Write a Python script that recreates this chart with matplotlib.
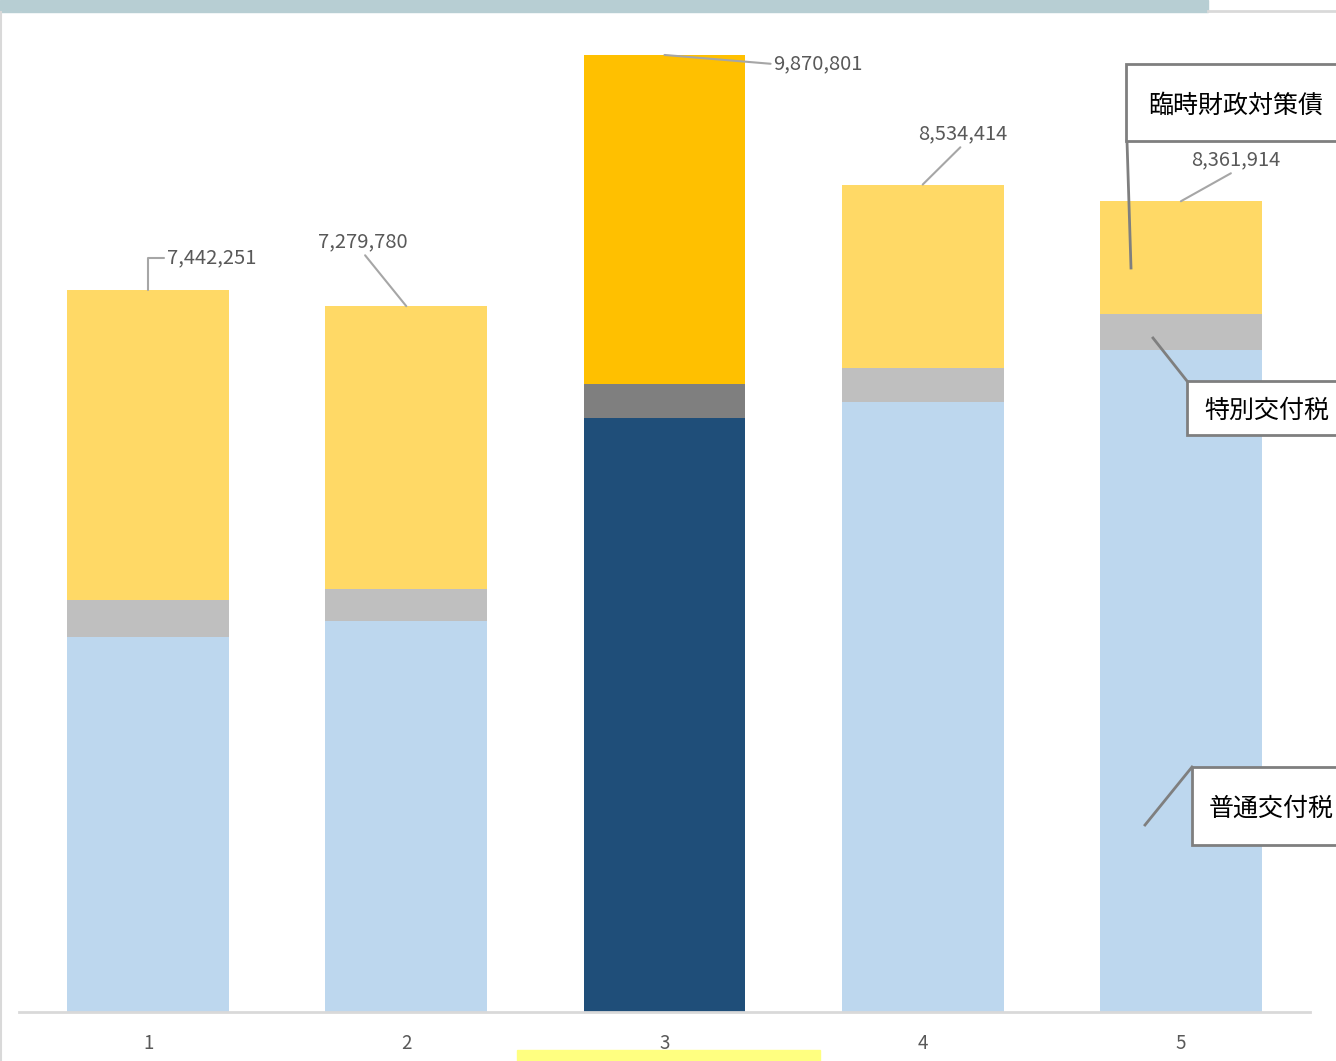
import numpy as np
import matplotlib
matplotlib.use('Agg')
import matplotlib.pyplot as plt
from matplotlib.patches import Rectangle
from matplotlib.lines import Line2D

plt.rcParams['font.family'] = ['Noto Sans CJK JP', 'DejaVu Sans']

# data (yen, thousands)
categories = ['1', '2', '3', '4', '5']
futsu = [3868000, 4033000, 6127000, 6292000, 6828000]      # 普通交付税
tokubetsu = [382000, 330000, 351000, 351000, 371000]       # 特別交付税
totals = [7442251, 7279780, 9870801, 8534414, 8361914]
rinji = [t - a - b for t, a, b in zip(totals, futsu, tokubetsu)]  # 臨時財政対策債

light = ['#bdd7ee', '#bfbfbf', '#ffd966']
dark = ['#1f4e79', '#7f7f7f', '#ffc000']
highlight = 2

W, H = 1336, 1061
fig = plt.figure(figsize=(W / 100, H / 100), dpi=100)
ax = fig.add_axes([19 / W, 49 / H, 1291 / W, 997 / H])

x = np.arange(len(categories))
ymax = 10283000
ax.set_xlim(-0.5, 4.5)
ax.set_ylim(0, ymax)

bw = 0.627
for i in range(len(categories)):
    c = dark if i == highlight else light
    ax.bar(x[i], futsu[i], bw, color=c[0], linewidth=0)
    ax.bar(x[i], tokubetsu[i], bw, bottom=futsu[i], color=c[1], linewidth=0)
    ax.bar(x[i], rinji[i], bw, bottom=futsu[i] + tokubetsu[i], color=c[2], linewidth=0)

# pixel -> data helpers for label layout
def dx(px):
    return (px - 148) / 258.5

def dy(py):
    return (1012 - py) / 997 * ymax

lbl = dict(fontsize=14.5, color='#595959', va='center')
arr = dict(arrowstyle='-', color='#a6a6a6', lw=1.5, shrinkA=0, shrinkB=0)
fmt = lambda v: f'{v:,}'

ax.annotate(fmt(totals[0]), xy=(x[0], totals[0]), xytext=(dx(167), dy(258)), ha='left',
            arrowprops=dict(arr, relpos=(0, 0.5), connectionstyle='angle,angleA=0,angleB=90,rad=0'), **lbl)
ax.annotate(fmt(totals[1]), xy=(x[1], totals[1]), xytext=(dx(363), dy(242)), ha='center',
            arrowprops=dict(arr, relpos=(0.5, 0)), **lbl)
ax.annotate(fmt(totals[2]), xy=(x[2], totals[2]), xytext=(dx(774), dy(64)), ha='left',
            arrowprops=dict(arr, relpos=(0, 0.5)), **lbl)
ax.annotate(fmt(totals[3]), xy=(x[3], totals[3]), xytext=(dx(964), dy(134)), ha='center',
            arrowprops=dict(arr, relpos=(0.5, 0)), **lbl)
ax.annotate(fmt(totals[4]), xy=(x[4], totals[4]), xytext=(dx(1237), dy(160)), ha='center',
            arrowprops=dict(arr, relpos=(0.5, 0)), **lbl)

ax.set_xticks(x)
ax.set_xticklabels(categories, fontsize=13.5, color='#595959')
ax.tick_params(axis='x', length=0, pad=15)
ax.set_yticks([])
for s in ['top', 'right', 'left']:
    ax.spines[s].set_visible(False)
ax.spines['bottom'].set_color('#d9d9d9')
ax.spines['bottom'].set_linewidth(2)

# figure decorations
def fx(px):
    return px / W

def fy(py):
    return 1 - py / H

fig.patches.append(Rectangle((0, fy(12)), fx(1208), 12 / H, transform=fig.transFigure,
                             color='#b7ced3', zorder=0))
fig.lines.append(Line2D([fx(1208), 1], [fy(11), fy(11)], transform=fig.transFigure,
                        color='#d9d9d9', lw=2))
fig.lines.append(Line2D([fx(1), fx(1)], [fy(12), 0], transform=fig.transFigure,
                        color='#d9d9d9', lw=1.5))
fig.patches.append(Rectangle((fx(517), 0), fx(820) - fx(517), 11 / H, transform=fig.transFigure,
                             color='#ffff80', zorder=0))

# callouts
callouts = [
    ('臨時財政対策債', (1126, 64, 1340, 141), (1127, 141), (1131, 268), 1148),
    ('特別交付税', (1187, 381, 1340, 435), (1187, 381), (1153, 338), 1204),
    ('普通交付税', (1192, 767, 1340, 845), (1192, 767), (1145, 825), 1209),
]
for txt, (x0, y0, x1, y1), p0, p1, tx in callouts:
    fig.patches.append(Rectangle((fx(x0), fy(y1)), fx(x1) - fx(x0), (y1 - y0) / H,
                                 transform=fig.transFigure, facecolor='white',
                                 edgecolor='#7f7f7f', lw=2, zorder=5))
    fig.lines.append(Line2D([fx(p0[0]), fx(p1[0])], [fy(p0[1]), fy(p1[1])],
                            transform=fig.transFigure, color='#7f7f7f', lw=2, zorder=5))
    fig.text(fx(tx), fy((y0 + y1) / 2 + 3), txt, fontsize=18, color='black',
             ha='left', va='center', zorder=6)

fig.savefig('out.png', dpi=100)
